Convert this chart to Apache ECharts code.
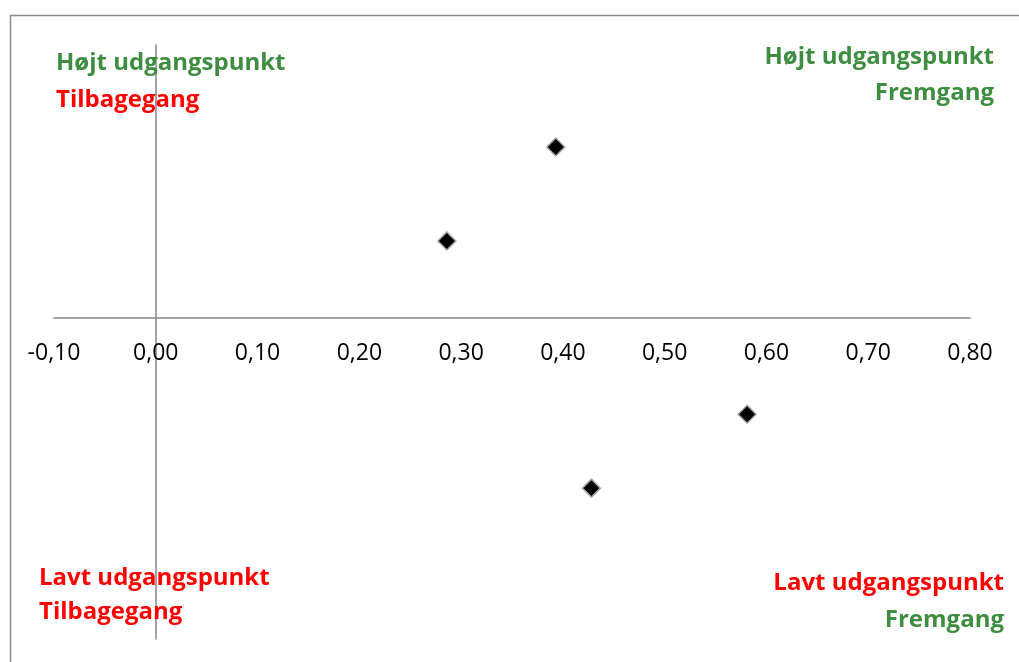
<!DOCTYPE html>
<html>
<head>
<meta charset="utf-8">
<script src="https://cdn.jsdelivr.net/npm/echarts@6/dist/echarts.min.js"></script>
<style>
html,body{margin:0;padding:0;background:#fff;}
#c{width:1019px;height:662px;}
</style>
</head>
<body>
<div id="c"></div>
<script>
const xValues = [0.286, 0.393, 0.428, 0.581];
const yValues = [0.096, 0.213, -0.212, -0.120];
const xMin = -0.1, xMax = 0.8, xStep = 0.1;
const yMin = -0.4, yMax = 0.34;
const quadrantTexts = [
  {lines: ['Højt udgangspunkt', 'Tilbagegang'], colors: ['green', 'red']},
  {lines: ['Højt udgangspunkt', 'Fremgang'], colors: ['green', 'green']},
  {lines: ['Lavt udgangspunkt', 'Tilbagegang'], colors: ['red', 'red']},
  {lines: ['Lavt udgangspunkt', 'Fremgang'], colors: ['red', 'green']}
];
const GREEN = '#3E8D41', RED = '#FF0000';
const FONT = '"Open Sans", "DejaVu Sans", sans-serif';

const chart = echarts.init(document.getElementById('c'), null, {renderer: 'canvas'});
const upper = [], lower = [];
xValues.forEach((x, i) => { (yValues[i] >= 0 ? upper : lower).push([x, yValues[i]]); });

function col(c){ return c === 'green' ? GREEN : RED; }
const qPos = [
  {x: 56, y: [63, 100], align: 'left'},
  {x: 994, y: [57, 93], align: 'right'},
  {x: 39, y: [578, 612], align: 'left'},
  {x: 1004, y: [583, 620], align: 'right'}
];
const graphics = [{
  type: 'rect', shape: {x: 10.5, y: 15.5, width: 1200, height: 800},
  style: {fill: 'none', stroke: '#8C8C8C', lineWidth: 1.5}, silent: true, z: 0
}];
quadrantTexts.forEach((q, qi) => {
  q.lines.forEach((t, li) => {
    graphics.push({
      type: 'text', x: qPos[qi].x, y: qPos[qi].y[li], z: 10,
      style: {text: t, fill: col(q.colors[li]), font: 'bold 24px ' + FONT,
        textAlign: qPos[qi].align, textVerticalAlign: 'middle'}
    });
  });
});

const axisLineStyle = {color: '#868686', width: 1.5};
const markerStyle = {color: '#000', opacity: 1, borderColor: '#A6A6A6', borderWidth: 1.5};
chart.setOption({
  animation: false,
  backgroundColor: '#fff',
  grid: [
    {left: 54, right: 49, top: 45, height: 273, outerBoundsMode: 'none'},
    {left: 54, right: 49, top: 318, bottom: 23, outerBoundsMode: 'none'}
  ],
  xAxis: [{
    gridIndex: 0, type: 'value', min: xMin, max: xMax, interval: xStep,
    axisLine: {show: true, onZero: false, lineStyle: axisLineStyle},
    axisTick: {show: false},
    splitLine: {show: false},
    axisLabel: {margin: 24, fontSize: 23, fontFamily: FONT, color: '#000',
      formatter: v => v.toFixed(2).replace('.', ',')}
  }, {
    gridIndex: 1, type: 'value', min: xMin, max: xMax, interval: xStep, show: false
  }],
  yAxis: [{
    gridIndex: 0, type: 'value', min: 0, max: yMax,
    axisLine: {show: true, onZero: true, lineStyle: axisLineStyle},
    axisTick: {show: false}, splitLine: {show: false}, axisLabel: {show: false}
  }, {
    gridIndex: 1, type: 'value', min: yMin, max: 0,
    axisLine: {show: true, onZero: true, lineStyle: axisLineStyle},
    axisTick: {show: false}, splitLine: {show: false}, axisLabel: {show: false}
  }],
  graphic: graphics,
  series: [{
    type: 'scatter', xAxisIndex: 0, yAxisIndex: 0, data: upper, symbol: 'diamond', symbolSize: 18,
    itemStyle: markerStyle
  }, {
    type: 'scatter', xAxisIndex: 1, yAxisIndex: 1, data: lower, symbol: 'diamond', symbolSize: 18,
    itemStyle: markerStyle
  }]
});
</script>
</body>
</html>
